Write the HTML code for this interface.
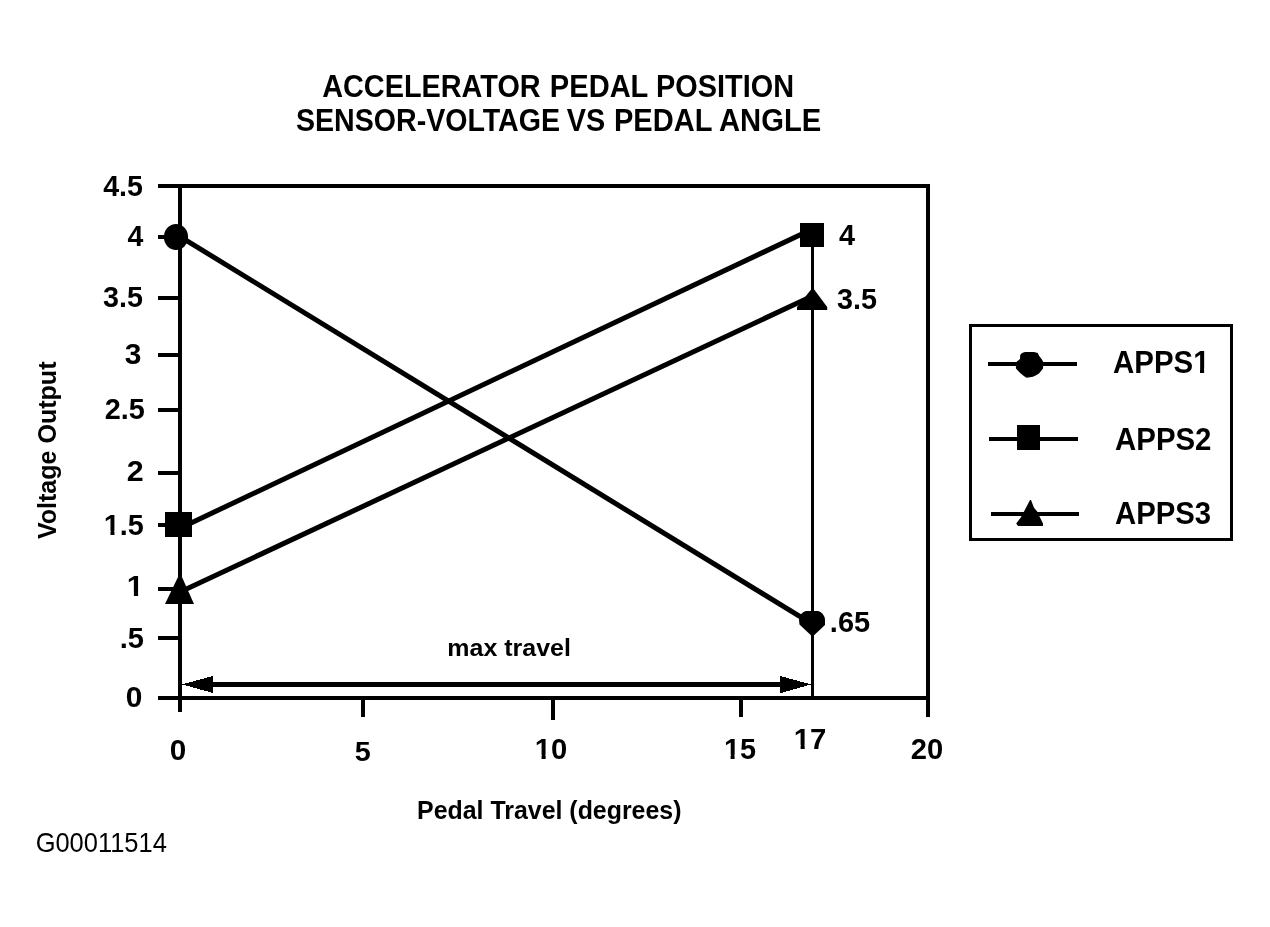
<!DOCTYPE html>
<html lang="en">
<head>
<meta charset="utf-8">
<title>Accelerator Pedal Position Sensor - Voltage vs Pedal Angle</title>
<style>
html,body{margin:0;padding:0;background:#fff;}
body{width:1270px;height:927px;overflow:hidden;}
svg{display:block;}
text{font-family:"Liberation Sans",sans-serif;fill:#000;}
</style>
</head>
<body>
<svg width="1270" height="927" viewBox="0 0 1270 927">
<rect width="1270" height="927" fill="#fff"/>
<g fill="#000" shape-rendering="crispEdges">
<rect x="178" y="184" width="4" height="528"/>
<rect x="158" y="184" width="772" height="4"/>
<rect x="926" y="184" width="4" height="533"/>
<rect x="158" y="696" width="772" height="4"/>
<rect x="158" y="235" width="22" height="4"/>
<rect x="158" y="296" width="22" height="4"/>
<rect x="158" y="353" width="22" height="4"/>
<rect x="158" y="408" width="22" height="4"/>
<rect x="158" y="471" width="22" height="4"/>
<rect x="158" y="523" width="22" height="4"/>
<rect x="158" y="587" width="22" height="4"/>
<rect x="158" y="636" width="22" height="4"/>
<rect x="361" y="698" width="4" height="19"/>
<rect x="551" y="698" width="4" height="22"/>
<rect x="739" y="698" width="4" height="19"/>
<rect x="811" y="235" width="3" height="463"/>
<rect x="210" y="682" width="575" height="5"/>
<path d="M182,684.4 L213,676 L213,693 Z"/>
<path d="M811,684.4 L780.4,676 L780.4,693.2 Z"/>
</g>
<g stroke="#000" stroke-width="5.05" fill="none">
<line x1="176" y1="234.1" x2="812" y2="623.9"/>
<line x1="180" y1="528.2" x2="812" y2="229.2"/>
<line x1="180" y1="592.0" x2="812" y2="296.2"/>
</g>
<g fill="#000">
<ellipse cx="176" cy="237" rx="12.1" ry="13"/>
<path d="M806,611 L818,611 C822,612 825,616 825,620 L825,625 L813.8,635.6 L811.2,635.6 L799.5,624.5 L799,620 C799,616 802,612 806,611 Z"/>
<rect x="165" y="512" width="27" height="25"/>
<rect x="800" y="223" width="24" height="24"/>
<path d="M178.5,576 L181.5,576 L194,604 L165,604 Z"/>
<path d="M811.5,289 L813.8,289 L827.2,307 L827.2,310 L797,310 L797,307 Z"/>
</g>
<g fill="#000">
<rect x="970.5" y="325.5" width="261" height="214" fill="none" stroke="#000" stroke-width="3"/>
<rect x="988" y="362" width="89" height="4"/>
<path d="M1025,352 L1034,352 L1037.8,353 L1039,355.7 L1041.6,359 L1043.7,362.7 L1043.2,366 L1043,368.6 L1039,373.5 L1035.6,375.6 L1033,376.7 L1026.4,377.8 L1023.2,375.6 L1020.2,373 L1018,370.8 L1016,368.6 L1015.6,362.7 L1020,359 L1020.2,355 L1022,353 Z"/>
<rect x="989" y="437" width="89" height="4"/>
<rect x="1017" y="425" width="23" height="25"/>
<rect x="991" y="512" width="88" height="4"/>
<path d="M1030,500 L1031,500 L1034,507.8 L1037.2,511.6 L1040,517.5 L1043,523.5 L1043,526 L1018,526 L1016.2,523.5 L1020.8,517.5 L1024,511.6 Z"/>
</g>
<g>
<text y="96.79" font-size="31.10" font-weight="700"><tspan x="322.15" textLength="218.54" lengthAdjust="spacingAndGlyphs">ACCELERATOR</tspan> <tspan x="549.85" textLength="98.02" lengthAdjust="spacingAndGlyphs">PEDAL</tspan> <tspan x="656.05" textLength="138.03" lengthAdjust="spacingAndGlyphs">POSITION</tspan></text>
<text y="130.59" font-size="31.24" font-weight="700"><tspan x="296.00" textLength="264.04" lengthAdjust="spacingAndGlyphs">SENSOR-VOLTAGE</tspan> <tspan x="566.80" textLength="38.41" lengthAdjust="spacingAndGlyphs">VS</tspan> <tspan x="614.00" textLength="97.86" lengthAdjust="spacingAndGlyphs">PEDAL</tspan> <tspan x="719.05" textLength="102.15" lengthAdjust="spacingAndGlyphs">ANGLE</tspan></text>
<g transform="translate(103.20,195.60) scale(0.9553,1)"><text font-size="29.97" font-weight="700">4.5</text></g>
<g transform="translate(127.40,246.00) scale(0.9701,1)"><text font-size="29.38" font-weight="700">4</text></g>
<g transform="translate(103.10,306.73) scale(0.9470,1)"><text font-size="30.35" font-weight="700">3.5</text></g>
<g transform="translate(124.85,363.83) scale(0.9942,1)"><text font-size="30.07" font-weight="700">3</text></g>
<g transform="translate(104.80,418.51) scale(0.9869,1)"><text font-size="29.26" font-weight="700">2.5</text></g>
<g transform="translate(126.80,481.00) scale(1.0406,1)"><text font-size="29.25" font-weight="700">2</text></g>
<g transform="translate(103.80,534.70) scale(0.9651,1)"><text font-size="29.82" font-weight="700">1.5</text><rect x="0.60" y="-4.03" width="6.32" height="5.07" fill="#fff"/><rect x="11.06" y="-4.03" width="5.37" height="5.07" fill="#fff"/></g>
<g transform="translate(126.80,596.10) scale(1.0499,1)"><text font-size="29.09" font-weight="700">1</text><rect x="0.58" y="-3.93" width="6.17" height="4.95" fill="#fff"/><rect x="10.79" y="-3.93" width="5.24" height="4.95" fill="#fff"/></g>
<g transform="translate(119.70,647.60) scale(0.9789,1)"><text font-size="29.68" font-weight="700">.5</text></g>
<g transform="translate(125.65,706.90) scale(0.9919,1)"><text font-size="30.11" font-weight="700">0</text></g>
<g transform="translate(169.75,759.60) scale(0.9988,1)"><text font-size="29.68" font-weight="700">0</text></g>
<g transform="translate(354.80,760.61) scale(1.0097,1)"><text font-size="28.53" font-weight="700">5</text></g>
<g transform="translate(534.80,758.60) scale(0.9891,1)"><text font-size="29.54" font-weight="700">10</text><rect x="0.59" y="-3.99" width="6.26" height="5.02" fill="#fff"/><rect x="10.96" y="-3.99" width="5.32" height="5.02" fill="#fff"/></g>
<g transform="translate(723.90,758.90) scale(0.9475,1)"><text font-size="30.40" font-weight="700">15</text><rect x="0.61" y="-4.10" width="6.44" height="5.17" fill="#fff"/><rect x="11.28" y="-4.10" width="5.47" height="5.17" fill="#fff"/></g>
<g transform="translate(793.80,749.00) scale(0.9690,1)"><text font-size="30.26" font-weight="700">17</text><rect x="0.61" y="-4.08" width="6.41" height="5.14" fill="#fff"/><rect x="11.23" y="-4.08" width="5.45" height="5.14" fill="#fff"/></g>
<g transform="translate(910.80,758.60) scale(0.9873,1)"><text font-size="29.54" font-weight="700">20</text></g>
<g transform="translate(839.10,245.00) scale(0.9873,1)"><text font-size="29.24" font-weight="700">4</text></g>
<g transform="translate(836.95,308.63) scale(0.9626,1)"><text font-size="29.93" font-weight="700">3.5</text></g>
<g transform="translate(829.85,631.60) scale(0.9816,1)"><text font-size="29.54" font-weight="700">.65</text></g>
<g transform="translate(1113.05,372.79) scale(0.9423,1)"><text font-size="31.24" font-weight="700">APPS1</text><rect x="85.67" y="-4.22" width="6.62" height="5.31" fill="#fff"/><rect x="96.63" y="-4.22" width="5.62" height="5.31" fill="#fff"/></g>
<g transform="translate(1115.05,450.09) scale(0.9542,1)"><text font-size="30.81" font-weight="700">APPS2</text></g>
<g transform="translate(1115.05,524.17) scale(0.9527,1)"><text font-size="30.78" font-weight="700">APPS3</text></g>
<g transform="translate(447.33,655.65) scale(1.0146,1)"><text font-size="24.63" font-weight="700">max travel</text></g>
<g transform="translate(417.05,818.56) scale(0.9733,1)"><text font-size="25.60" font-weight="700">Pedal Travel (degrees)</text></g>
<g transform="translate(35.65,851.78) scale(0.9405,1)"><text font-size="27.07" font-weight="400">G00011514</text></g>
<g transform="translate(55.57,539.10) rotate(-90) scale(0.9626,1)"><text font-size="26.03" font-weight="700">Voltage Output</text></g>
</g>
</svg>
</body>
</html>
